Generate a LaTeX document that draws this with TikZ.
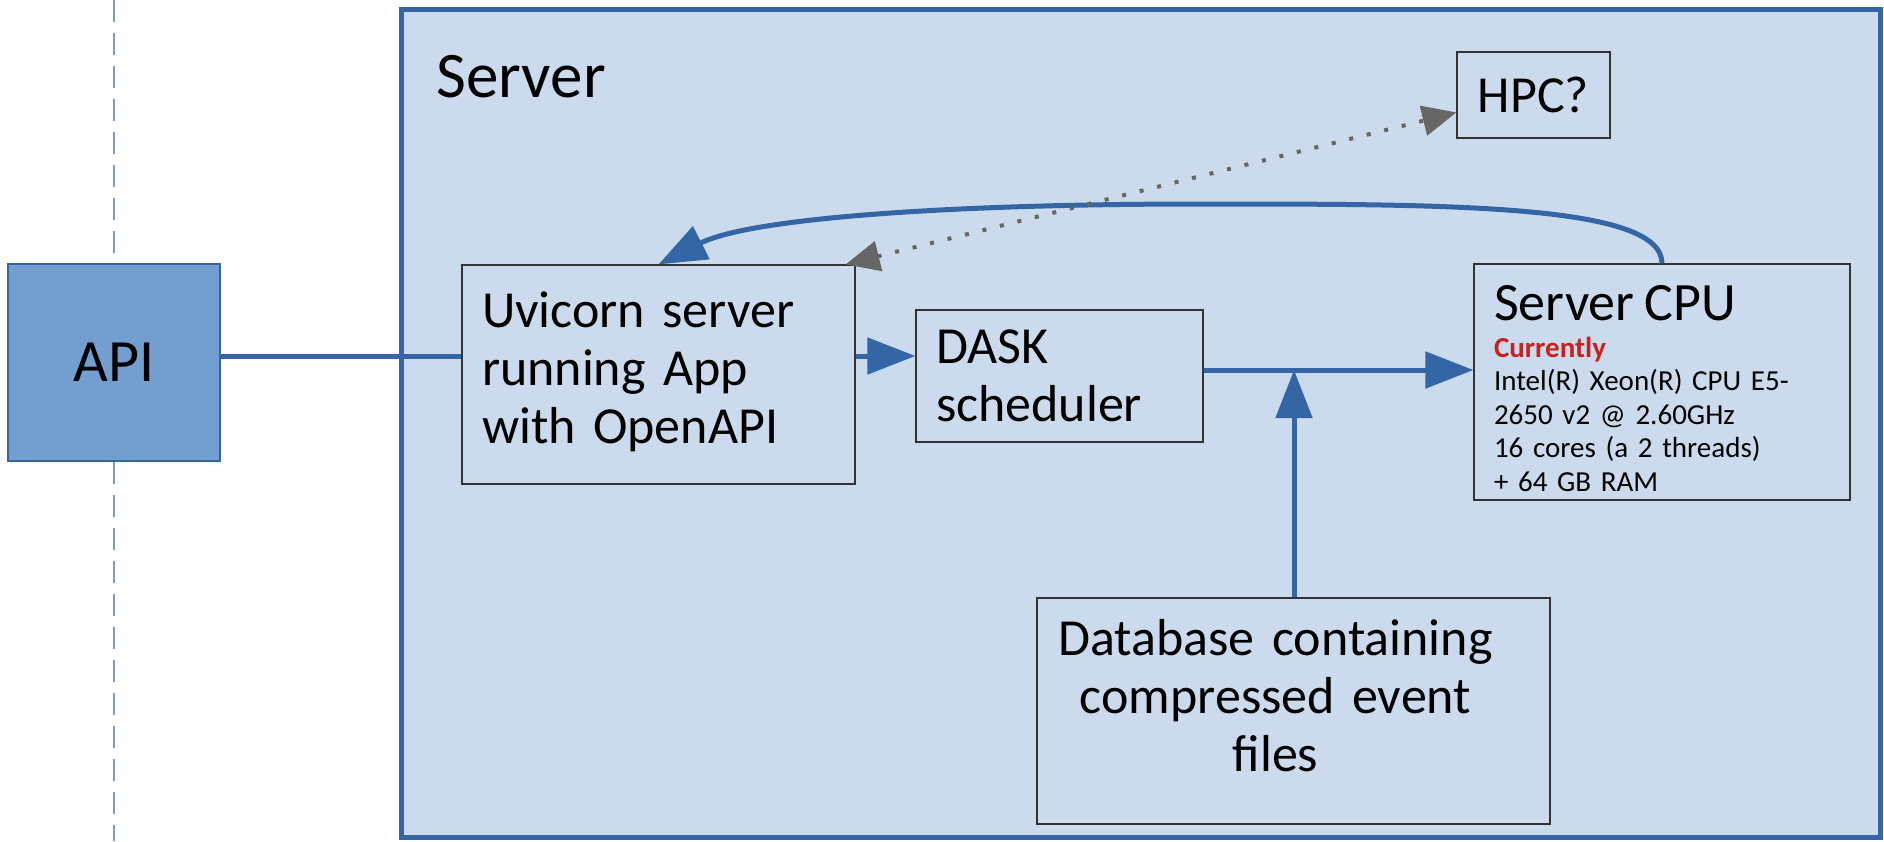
\documentclass[tikz,border=0pt]{standalone}
\usepackage{fontspec}
\setmainfont{Carlito}
\usetikzlibrary{arrows.meta,calc}
\definecolor{srvfill}{HTML}{CBDAEC}
\definecolor{srvline}{HTML}{3465A4}
\definecolor{apifill}{HTML}{729FCF}
\definecolor{dashcol}{HTML}{7B9BC8}
\definecolor{hpcgray}{HTML}{666666}
\definecolor{curred}{HTML}{C9211E}
\tikzset{
  serverbox/.style={draw=srvline, line width=2.5pt, fill=srvfill},
  apibox/.style={draw=srvline, line width=0.6pt, fill=apifill, font=\fontsize{30}{34}\selectfont},
  innerbox/.style={draw=black!80, line width=0.6pt, inner xsep=10pt, inner ysep=0pt},
  bigtext/.style={font=\fontsize{26}{29}\selectfont},
  flow/.style={draw=srvline, line width=2.5pt},
  flowarrow/.style={flow, -{Triangle[length=24pt,width=18pt]}},
  hpclink/.style={draw=hpcgray, line width=2pt, dash pattern=on 2pt off 7pt,
    {Triangle[length=17pt,width=15pt]}-{Triangle[length=17pt,width=15pt]}},
  dashline/.style={draw=dashcol, line width=0.75pt, dash pattern=on 11pt off 5.5pt},
}
\begin{document}
\begin{tikzpicture}[x=0.5pt,y=-0.5pt]
\useasboundingbox (0,0) rectangle (1884,841);
% dashed lifeline
\coordinate (dtop) at (114,0);
\coordinate (dbot) at (114,841);
\draw[dashline] (dtop) -- (dbot);
% API
\node[apibox, minimum width=106pt, minimum height=98.5pt] (api) at (114,362.5) {API};
% Server container
\node[serverbox, minimum width=739.5pt, minimum height=414pt] (server) at (1140.5,423) {};
\node[anchor=west, font=\fontsize{32.5}{36}\selectfont, inner sep=0pt] (srvlabel) at (436,77) {Server};
% inner boxes
\node[innerbox, bigtext, minimum width=196.5pt, minimum height=109.5pt, text width=176.5pt, align=left] (uv) at (658.5,374.5)
  {Uvicorn server\\ running App\\ with OpenAPI\rule[-7pt]{0pt}{7pt}};
\node[innerbox, bigtext, minimum width=143.5pt, minimum height=66pt, text width=123.5pt, align=left] (dask) at (1059.5,376)
  {DASK\\ scheduler};
\node[innerbox, font=\fontsize{14.5}{15.75}\selectfont, minimum width=188pt, minimum height=118pt, text width=168pt, align=left] (cpu) at (1662,382)
  {\fontsize{27}{28.5}\selectfont\rule{0pt}{24pt}Server CPU\\[2.75pt]
   \fontsize{14.5}{15.75}\selectfont{\color{curred}\bfseries Currently}\\[1pt]
   Intel(R) Xeon(R) CPU E5-\\[1pt] 2650 v2 @ 2.60GHz\\[1pt] 16 cores (a 2 threads)\\[1pt] + 64 GB RAM};
\node[innerbox, bigtext, minimum width=76.5pt, minimum height=43pt] (hpc) at (1533.5,95) {HPC?};
\node[innerbox, bigtext, minimum width=256.5pt, minimum height=113pt, text width=236.5pt, align=center] (db) at (1293.5,711)
  {\hspace*{-18pt}Database containing\\ \hspace*{-18pt}compressed event\\ \hspace*{-18pt}files\rule[-16pt]{0pt}{16pt}};
% connectors
\coordinate (row1) at (0,356);
\coordinate (row2) at (0,370);
\coordinate (dbx) at (1294,0);
\draw[flow] (api.east |- row1) -- (uv.west |- row1);
\draw[flowarrow] (uv.east |- row1) -- (dask.west |- row1);
\draw[flowarrow] (dask.east |- row2) -- (cpu.west |- row2);
\draw[flowarrow] (db.north -| dbx) -- (dbx |- row2);
\coordinate (peak) at (1200,204);
\draw[flowarrow] (cpu.north) .. controls (1662,204) and (1450,204) .. (peak)
  .. controls (950,204) and (750,218) .. (uv.north);
\coordinate (hpctip) at ($(hpc.west)!0.4!(hpc.south west)$);
\draw[hpclink] ([xshift=-5pt]uv.north east) -- (hpctip);
\end{tikzpicture}
\end{document}
